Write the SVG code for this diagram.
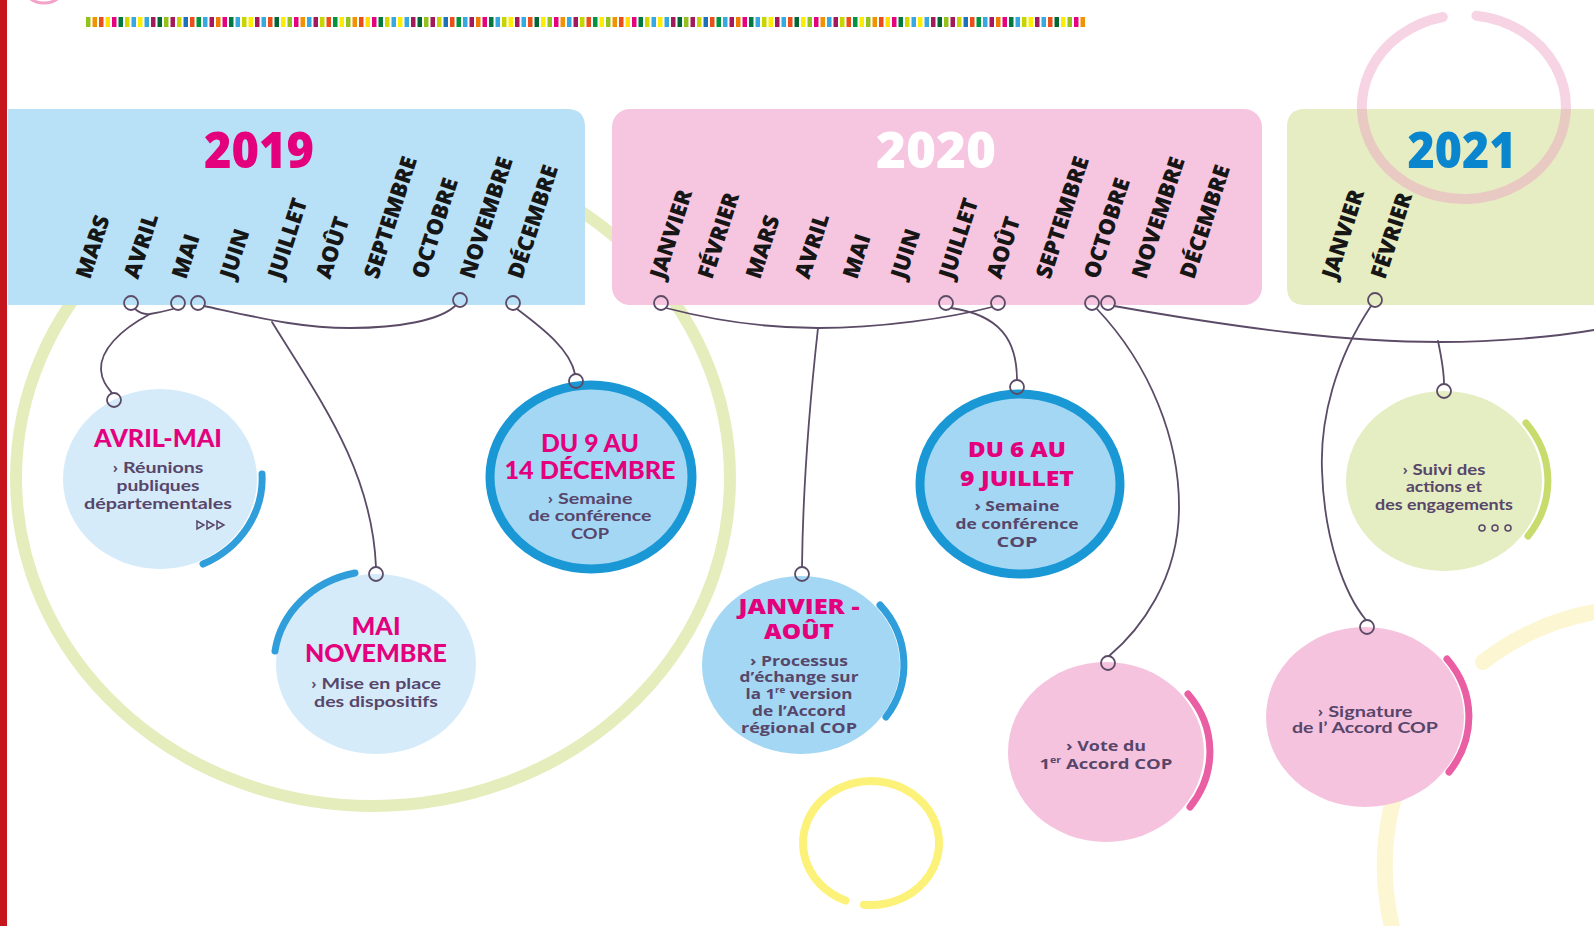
<svg xmlns="http://www.w3.org/2000/svg" width="1594" height="926" viewBox="0 0 1594 926">
<style>
.conn{fill:none;stroke:#5b4b66;stroke-width:1.8;stroke-linecap:round}
.dot{fill:none;stroke:#5b4b66;stroke-width:1.8}
.month{font-family:"Open Sans","Liberation Sans",sans-serif;font-weight:800;font-size:22px;fill:#161616}
.year{font-family:"Open Sans","Liberation Sans",sans-serif;font-weight:800;font-size:50px;text-anchor:middle}
.t1{font-family:Lato,"Liberation Sans",sans-serif;font-weight:900;font-size:24px;fill:#e4007c;text-anchor:middle}
.t2{font-family:"Open Sans","Liberation Sans",sans-serif;font-weight:800;font-size:21px;fill:#e4007c;text-anchor:middle}
.b1{font-family:Lato,"Liberation Sans",sans-serif;font-weight:700;font-size:16px;fill:#57466a;text-anchor:middle}
.b2{font-family:"Open Sans","Liberation Sans",sans-serif;font-weight:700;font-size:14px;fill:#57466a;text-anchor:middle}
.arcB{fill:none;stroke:#2f9edb;stroke-width:7;stroke-linecap:round}
.arcP{fill:none;stroke:#ea5ea4;stroke-width:7;stroke-linecap:round}
.arcG{fill:none;stroke:#c8dc6e;stroke-width:7;stroke-linecap:round}
</style>
<defs>
<pattern id="bar" patternUnits="userSpaceOnUse" x="86" y="17" width="260" height="10">
<rect x="0" width="4.5" height="10" fill="#95c11f"/><rect x="6.5" width="4.5" height="10" fill="#f39200"/><rect x="13" width="4.5" height="10" fill="#e94e1b"/><rect x="19.5" width="4.5" height="10" fill="#ffde00"/><rect x="26" width="4.5" height="10" fill="#e6007e"/><rect x="32.5" width="4.5" height="10" fill="#00783f"/><rect x="39" width="4.5" height="10" fill="#d4d700"/><rect x="45.5" width="4.5" height="10" fill="#36a9e1"/><rect x="52" width="4.5" height="10" fill="#ffed00"/><rect x="58.5" width="4.5" height="10" fill="#36a9e1"/><rect x="65" width="4.5" height="10" fill="#a3195b"/><rect x="71.5" width="4.5" height="10" fill="#006633"/><rect x="78" width="4.5" height="10" fill="#95c11f"/><rect x="84.5" width="4.5" height="10" fill="#a3195b"/><rect x="91" width="4.5" height="10" fill="#c8d400"/><rect x="97.5" width="4.5" height="10" fill="#1d71b8"/><rect x="104" width="4.5" height="10" fill="#e94e1b"/><rect x="110.5" width="4.5" height="10" fill="#009640"/><rect x="117" width="4.5" height="10" fill="#36a9e1"/><rect x="123.5" width="4.5" height="10" fill="#a3195b"/><rect x="130" width="4.5" height="10" fill="#ef7d00"/><rect x="136.5" width="4.5" height="10" fill="#e6007e"/><rect x="143" width="4.5" height="10" fill="#00783f"/><rect x="149.5" width="4.5" height="10" fill="#36a9e1"/><rect x="156" width="4.5" height="10" fill="#c8d400"/><rect x="162.5" width="4.5" height="10" fill="#ffed00"/><rect x="169" width="4.5" height="10" fill="#a3195b"/><rect x="175.5" width="4.5" height="10" fill="#36a9e1"/><rect x="182" width="4.5" height="10" fill="#e94e1b"/><rect x="188.5" width="4.5" height="10" fill="#006633"/><rect x="195" width="4.5" height="10" fill="#ffed00"/><rect x="201.5" width="4.5" height="10" fill="#95c11f"/><rect x="208" width="4.5" height="10" fill="#e6007e"/><rect x="214.5" width="4.5" height="10" fill="#f39200"/><rect x="221" width="4.5" height="10" fill="#36a9e1"/><rect x="227.5" width="4.5" height="10" fill="#a3195b"/><rect x="234" width="4.5" height="10" fill="#c8d400"/><rect x="240.5" width="4.5" height="10" fill="#e94e1b"/><rect x="247" width="4.5" height="10" fill="#009640"/><rect x="253.5" width="4.5" height="10" fill="#ffed00"/>
</pattern>
</defs>
<rect width="1594" height="926" fill="#ffffff"/>
<rect x="0" y="0" width="7" height="926" fill="#c4161c"/>
<circle cx="44" cy="-21" r="24" fill="none" stroke="#f3a3c9" stroke-width="3"/>
<rect x="86" y="17" width="1000" height="10" fill="url(#bar)"/>

<!-- decorative rings -->
<g id="decor">
<ellipse cx="373" cy="478" rx="357" ry="328" fill="none" stroke="#e5edbd" stroke-width="12"/>
<path d="M845.5,900.5 A68,62 0 1 1 863.9,904.7" fill="none" stroke="#fdf279" stroke-width="8" stroke-linecap="round"/>
<path d="M1483,662 A257,257 0 0 1 1730,624" fill="none" stroke="#fdf6d3" stroke-width="16" stroke-linecap="round"/>
<path d="M1409,757 A257,257 0 0 0 1419,994" fill="none" stroke="#fdf6d3" stroke-width="16" stroke-linecap="round"/>
</g>

<!-- panels -->
<g id="panel-2019">
<path d="M8,109 H567 Q585,109 585,127 V305 H8 Z" fill="#b8e1f7"/>
<text class="year" x="259" y="168" fill="#e4007c" textLength="110" lengthAdjust="spacingAndGlyphs">2019</text>
<g class="month">
<text transform="translate(90,280) rotate(-72)">MARS</text>
<text transform="translate(138,280) rotate(-72)">AVRIL</text>
<text transform="translate(186,280) rotate(-72)">MAI</text>
<text transform="translate(234,280) rotate(-72)">JUIN</text>
<text transform="translate(282,280) rotate(-72)">JUILLET</text>
<text transform="translate(330,280) rotate(-72)">AOÛT</text>
<text transform="translate(378,280) rotate(-72)">SEPTEMBRE</text>
<text transform="translate(426,280) rotate(-72)">OCTOBRE</text>
<text transform="translate(474,280) rotate(-72)">NOVEMBRE</text>
<text transform="translate(522,280) rotate(-72)">DÉCEMBRE</text>
</g>
<circle class="dot" cx="131" cy="303" r="7"/>
<circle class="dot" cx="178" cy="303" r="7"/>
<circle class="dot" cx="198" cy="303" r="7"/>
<circle class="dot" cx="460" cy="300" r="7"/>
<circle class="dot" cx="513" cy="303" r="7"/>
</g>

<g id="panel-2020">
<rect x="612" y="109" width="650" height="196" rx="18" fill="#f6c5df"/>
<text class="year" x="936" y="168" fill="#ffffff" textLength="120" lengthAdjust="spacingAndGlyphs">2020</text>
<g class="month">
<text transform="translate(664,280) rotate(-72)">JANVIER</text>
<text transform="translate(712,280) rotate(-72)">FÉVRIER</text>
<text transform="translate(760,280) rotate(-72)">MARS</text>
<text transform="translate(809,280) rotate(-72)">AVRIL</text>
<text transform="translate(857,280) rotate(-72)">MAI</text>
<text transform="translate(905,280) rotate(-72)">JUIN</text>
<text transform="translate(953,280) rotate(-72)">JUILLET</text>
<text transform="translate(1001,280) rotate(-72)">AOÛT</text>
<text transform="translate(1050,280) rotate(-72)">SEPTEMBRE</text>
<text transform="translate(1098,280) rotate(-72)">OCTOBRE</text>
<text transform="translate(1146,280) rotate(-72)">NOVEMBRE</text>
<text transform="translate(1194,280) rotate(-72)">DÉCEMBRE</text>
</g>
<circle class="dot" cx="661" cy="303" r="7"/>
<circle class="dot" cx="946" cy="303" r="7"/>
<circle class="dot" cx="998" cy="303" r="7"/>
<circle class="dot" cx="1092" cy="303" r="7"/>
<circle class="dot" cx="1108" cy="303" r="7"/>
</g>

<g id="panel-2021">
<path d="M1305,109 H1594 V305 H1305 Q1287,305 1287,287 V127 Q1287,109 1305,109 Z" fill="#e6edc3"/>
<path d="M1476.4,15.7 A102,92 0 1 1 1442.8,17" fill="none" stroke="#eda0c3" stroke-opacity="0.45" stroke-width="10" stroke-linecap="round"/>
<text class="year" x="1462" y="168" fill="#0a86cf" textLength="109" lengthAdjust="spacingAndGlyphs">2021</text>
<g class="month">
<text transform="translate(1336,280) rotate(-72)">JANVIER</text>
<text transform="translate(1385,280) rotate(-72)">FÉVRIER</text>
</g>
<circle class="dot" cx="1375" cy="300" r="7"/>
</g>

<!-- connectors -->
<g id="connectors">
<path class="conn" d="M135,309 Q142,315 150,314 Q162,312 173,309"/>
<path class="conn" d="M150,314 C120,330 100,350 101,370 C102,382 108,388 112,393"/>
<path class="conn" d="M204,306 C260,318 300,328 350,328 C400,328 440,320 455,306"/>
<path class="conn" d="M272,322 C320,400 372,470 376,567"/>
<path class="conn" d="M517,309 C545,330 570,350 575,374"/>
<path class="conn" d="M666,308 C720,322 770,328 818,328 C880,328 950,318 992,307"/>
<path class="conn" d="M818,328 C810,400 803,480 802,567"/>
<path class="conn" d="M951,308 C1000,315 1017,340 1017,380"/>
<path class="conn" d="M1097,309 C1150,365 1180,440 1179,510 C1178,580 1140,630 1109,656"/>
<path class="conn" d="M1114,306 C1250,330 1350,342 1440,342 C1500,342 1560,336 1594,330"/>
<path class="conn" d="M1438,341 C1442,360 1444,372 1444,384"/>
<path class="conn" d="M1371,306 C1335,360 1320,420 1322,470 C1324,540 1345,595 1366,620"/>
</g>

<!-- nodes -->
<g id="node-avril-mai">
<ellipse cx="160" cy="479" rx="97" ry="90" fill="#d5ebfa"/>
<path class="arcB" d="M262,474 A102,94 0 0 1 203,564"/>
<circle class="dot" cx="114" cy="400" r="7"/>
<text class="t1" x="158" y="447" textLength="128" lengthAdjust="spacingAndGlyphs">AVRIL-MAI</text>
<text class="b1" x="158" y="473" textLength="91" lengthAdjust="spacingAndGlyphs">› Réunions</text>
<text class="b1" x="158" y="491" textLength="83" lengthAdjust="spacingAndGlyphs">publiques</text>
<text class="b1" x="158" y="509" textLength="148" lengthAdjust="spacingAndGlyphs">départementales</text>
<g fill="none" stroke="#57466a" stroke-width="1.5">
<polygon points="197,521 197,529 204,525"/>
<polygon points="207,521 207,529 214,525"/>
<polygon points="217,521 217,529 224,525"/>
</g>
</g>

<g id="node-mai-novembre">
<ellipse cx="376" cy="664" rx="100" ry="90" fill="#d5ebfa"/>
<path class="arcB" d="M275,651 A102,93 0 0 1 355,573"/>
<circle class="dot" cx="376" cy="574" r="7"/>
<text class="t1" x="376" y="635" textLength="49" lengthAdjust="spacingAndGlyphs">MAI</text>
<text class="t1" x="376" y="662" textLength="142" lengthAdjust="spacingAndGlyphs">NOVEMBRE</text>
<text class="b1" x="376" y="689" textLength="130" lengthAdjust="spacingAndGlyphs">› Mise en place</text>
<text class="b1" x="376" y="707" textLength="124" lengthAdjust="spacingAndGlyphs">des dispositifs</text>
</g>

<g id="node-dec-2019">
<ellipse cx="591" cy="477" rx="101" ry="92" fill="#a3d7f4" stroke="#1a98d5" stroke-width="9"/>
<circle class="dot" cx="576" cy="381" r="7" fill="#ffffff"/>
<text class="t1" x="590" y="452" textLength="98" lengthAdjust="spacingAndGlyphs">DU 9 AU</text>
<text class="t1" x="590" y="479" textLength="171" lengthAdjust="spacingAndGlyphs">14 DÉCEMBRE</text>
<text class="b1" x="590" y="504" textLength="85" lengthAdjust="spacingAndGlyphs">› Semaine</text>
<text class="b1" x="590" y="521" textLength="123" lengthAdjust="spacingAndGlyphs">de conférence</text>
<text class="b1" x="590" y="539" textLength="38" lengthAdjust="spacingAndGlyphs">COP</text>
</g>

<g id="node-janvier-aout">
<ellipse cx="801" cy="665" rx="99" ry="89" fill="#a3d7f4"/>
<path class="arcB" d="M880,605 A103,93 0 0 1 886,717"/>
<circle class="dot" cx="802" cy="574" r="7"/>
<text class="t2" x="799" y="614" textLength="121" lengthAdjust="spacingAndGlyphs">JANVIER -</text>
<text class="t2" x="799" y="639" textLength="70" lengthAdjust="spacingAndGlyphs">AOÛT</text>
<text class="b2" x="799" y="666" textLength="98" lengthAdjust="spacingAndGlyphs">› Processus</text>
<text class="b2" x="799" y="682" textLength="119" lengthAdjust="spacingAndGlyphs">d’échange sur</text>
<text class="b2" x="799" y="699" textLength="107" lengthAdjust="spacingAndGlyphs">la 1<tspan font-size="8" dy="-6">re</tspan><tspan dy="6"> version</tspan></text>
<text class="b2" x="799" y="716" textLength="94" lengthAdjust="spacingAndGlyphs">de l’Accord</text>
<text class="b2" x="799" y="733" textLength="116" lengthAdjust="spacingAndGlyphs">régional COP</text>
</g>

<g id="node-juillet-2020">
<ellipse cx="1020" cy="484" rx="100" ry="90" fill="#a3d7f4" stroke="#1a98d5" stroke-width="9"/>
<circle class="dot" cx="1017" cy="387" r="7" fill="#ffffff"/>
<text class="t2" x="1017" y="457" textLength="98" lengthAdjust="spacingAndGlyphs">DU 6 AU</text>
<text class="t2" x="1017" y="486" textLength="114" lengthAdjust="spacingAndGlyphs">9 JUILLET</text>
<text class="b2" x="1017" y="511" textLength="85" lengthAdjust="spacingAndGlyphs">› Semaine</text>
<text class="b2" x="1017" y="529" textLength="123" lengthAdjust="spacingAndGlyphs">de conférence</text>
<text class="b2" x="1017" y="547" textLength="41" lengthAdjust="spacingAndGlyphs">COP</text>
</g>

<g id="node-vote">
<ellipse cx="1106" cy="752" rx="98" ry="90" fill="#f6c3df"/>
<path class="arcP" d="M1188,694 A104,94 0 0 1 1190,807"/>
<circle class="dot" cx="1108" cy="663" r="7"/>
<text class="b2" x="1106" y="751" textLength="80" lengthAdjust="spacingAndGlyphs">› Vote du</text>
<text class="b2" x="1106" y="769" textLength="133" lengthAdjust="spacingAndGlyphs">1<tspan font-size="8" dy="-6">er</tspan><tspan dy="6"> Accord COP</tspan></text>
</g>

<g id="node-signature">
<ellipse cx="1365" cy="717" rx="99" ry="90" fill="#f6c3df"/>
<path class="arcP" d="M1447,659 A104,94 0 0 1 1449,772"/>
<circle class="dot" cx="1367" cy="627" r="7"/>
<text class="b1" x="1365" y="717" textLength="95" lengthAdjust="spacingAndGlyphs">› Signature</text>
<text class="b1" x="1365" y="733" textLength="146" lengthAdjust="spacingAndGlyphs">de l’ Accord COP</text>
</g>

<g id="node-suivi">
<ellipse cx="1444" cy="481" rx="98" ry="90" fill="#e5edc2"/>
<path class="arcG" d="M1526,423 A104,94 0 0 1 1528,536"/>
<circle class="dot" cx="1444" cy="391" r="7"/>
<text class="b1" x="1444" y="475" textLength="83" lengthAdjust="spacingAndGlyphs">› Suivi des</text>
<text class="b1" x="1444" y="492" textLength="76" lengthAdjust="spacingAndGlyphs">actions et</text>
<text class="b1" x="1444" y="510" textLength="138" lengthAdjust="spacingAndGlyphs">des engagements</text>
<g fill="none" stroke="#57466a" stroke-width="1.5">
<circle cx="1482" cy="528" r="3"/>
<circle cx="1495" cy="528" r="3"/>
<circle cx="1508" cy="528" r="3"/>
</g>
</g>
</svg>
